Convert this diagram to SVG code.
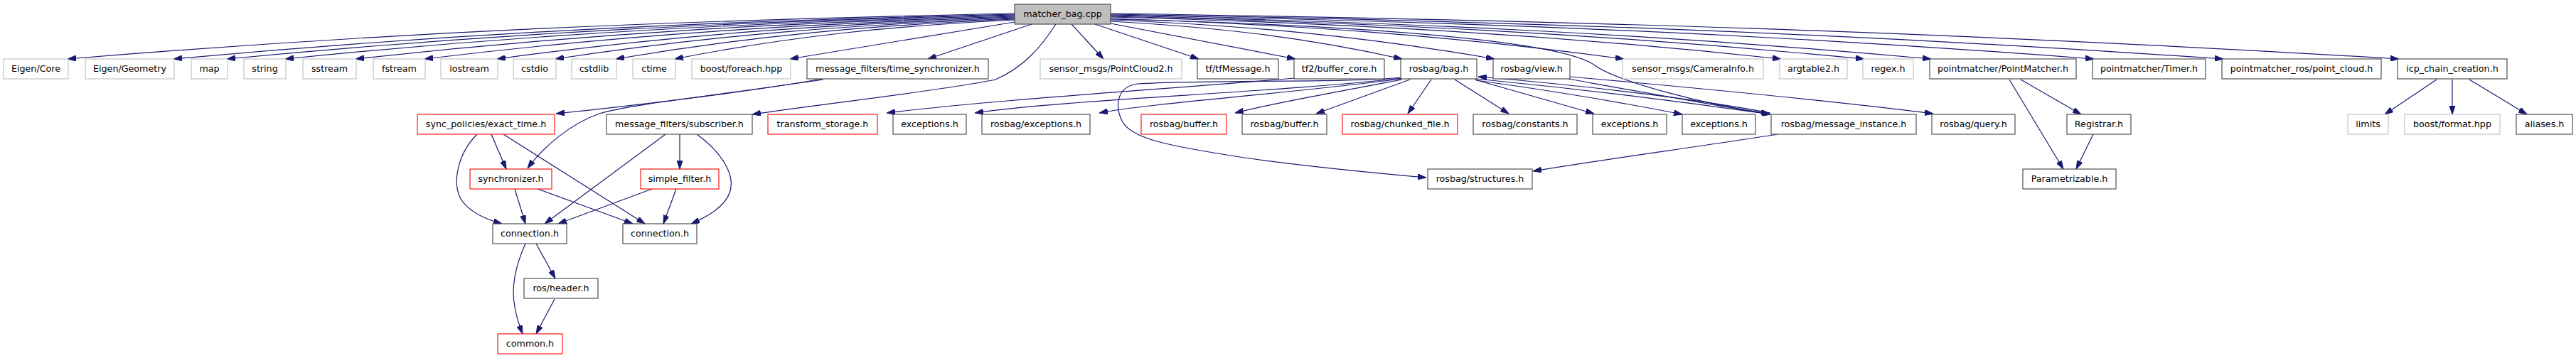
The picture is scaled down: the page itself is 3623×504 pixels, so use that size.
<svg xmlns="http://www.w3.org/2000/svg" width="3623" height="504" viewBox="0 0 3623 504">
<defs>
<marker id="a" markerWidth="12" markerHeight="8" refX="12" refY="4" orient="auto" markerUnits="userSpaceOnUse"><path d="M0,0 L12,4 L0,8 z" fill="#191970" stroke="#191970" stroke-width="1"/></marker>
</defs>
<style>
rect{fill:#fff;stroke:#404040;stroke-width:1.1}
.g rect{stroke:#bfbfbf}
.r rect{stroke:#ff0000}
.top rect{fill:#bfbfbf}
text{font-family:"DejaVu Sans",sans-serif;font-size:12.7px;text-anchor:middle;fill:#000}
#edges path{fill:none;stroke:#191970;stroke-width:1.2;marker-end:url(#a)}
</style>
<rect x="0" y="0" width="3623" height="504" style="fill:#fff;stroke:none"/>
<g id="edges">
<path d="M1427,19 C961,28.6 561,44.6 95,83"/>
<path d="M1427,20 C1013,29.5 658,45.2 244,83"/>
<path d="M1427,21 C1039,30.3 707,45.8 319,83"/>
<path d="M1427,22 C1068,31.2 760,46.4 401,83"/>
<path d="M1427,23 C1103,32 824,47 500,83"/>
<path d="M1427,24 C1137,32.9 888,47.6 597,83"/>
<path d="M1427,25 C1172,33.7 954,48.2 699,83"/>
<path d="M1427,26 C1201,34.6 1007,48.8 781,83"/>
<path d="M1427,27 C1231,35.4 1062,49.4 866,83"/>
<path d="M1427,28 C1260,36.3 1116,50 949,83"/>
<path d="M1427,31 L1111,83"/>
<path d="M1451,34 L1305,83"/>
<path d="M1507,34 L1552,83"/>
<path d="M1540,34 L1686,83"/>
<path d="M1562,33 L1822,83"/>
<path d="M1562,30 C1705,38 1828,51 1972,83"/>
<path d="M1562,28 C1751,36 1913,50 2102,83"/>
<path d="M1562,26 C1815,34.6 2031,48.8 2284,83"/>
<path d="M1562,24 C1892,32.9 2175,47.6 2505,83"/>
<path d="M1562,23 C1933,32 2251,47 2622,83"/>
<path d="M1562,22 C1966,31.2 2312,46.4 2716,83"/>
<path d="M1562,21 C2046,30.3 2461,45.8 2945,83"/>
<path d="M1562,20 C2110,29.5 2579,45.2 3127,83"/>
<path d="M1562,19 C2196,28.6 2740,44.6 3374,83"/>
<path d="M1562,27 C1950,36 2200,60 2243,92 C2275,115 2400,148 2489,160"/>
<path d="M1485,34 C1465,65 1440,95 1400,112 C1330,127 1150,147 1058,161"/>
<path d="M1156,111 C1050,130 880,150 782,160"/>
<path d="M1158,112 C1000,135 880,148 843,160 C805,173 765,205 742,237"/>
<path d="M1821,110 C1650,125 1400,140 1247,159"/>
<path d="M1971,110 C1800,130 1500,140 1371,159"/>
<path d="M1971,111 C1800,133 1620,145 1546,159"/>
<path d="M1972,112 C1850,135 1780,148 1737,159"/>
<path d="M1983,112 L1851,160"/>
<path d="M2013,112 L1980,160"/>
<path d="M2046,112 L2122,160"/>
<path d="M2074,112 L2242,160"/>
<path d="M2076,113 C2200,130 2300,148 2366,161"/>
<path d="M2077,111 C2250,128 2400,148 2490,161"/>
<path d="M2490,159 C2400,142 2250,122 2079,108"/>
<path d="M1970,109 C1900,117 1700,112 1600,118 C1570,122 1568,150 1578,170 C1590,195 1640,205 1750,222 C1850,236 1950,245 2006,250"/>
<path d="M2206,111 C2300,128 2420,150 2490,161"/>
<path d="M2208,108 C2400,125 2600,145 2719,160"/>
<path d="M2500,189 C2400,205 2250,225 2156,241"/>
<path d="M691,189 L712,238"/>
<path d="M671,189 C645,215 635,255 648,280 C660,300 688,310 706,315"/>
<path d="M708,189 L907,315"/>
<path d="M724,266 L739,315"/>
<path d="M756,266 L890,315"/>
<path d="M936,189 L766,315"/>
<path d="M956,189 L956,238"/>
<path d="M980,189 C1012,212 1036,245 1026,272 C1018,292 995,305 972,315"/>
<path d="M917,266 L785,315"/>
<path d="M951,266 L933,315"/>
<path d="M754,343 L781,392"/>
<path d="M739,343 C726,372 718,402 724,432 C727,450 731,460 735,470"/>
<path d="M780,421 L754,470"/>
<path d="M2842,112 L2927,161"/>
<path d="M2826,112 L2902,238"/>
<path d="M2944,189 L2920,238"/>
<path d="M3427,112 L3354,161"/>
<path d="M3449,112 L3449,161"/>
<path d="M3473,112 L3554,161"/>
</g>
<g id="n_matcher" class="top"><rect x="1427" y="6" width="135" height="28"/><text x="1494.5" y="24">matcher_bag.cpp</text></g>
<g id="n_eigen_core" class="g"><rect x="5" y="83" width="91" height="28"/><text x="50.5" y="101">Eigen/Core</text></g>
<g id="n_eigen_geometry" class="g"><rect x="120" y="83" width="125" height="28"/><text x="182.5" y="101">Eigen/Geometry</text></g>
<g id="n_map" class="g"><rect x="269" y="83" width="51" height="28"/><text x="294.5" y="101">map</text></g>
<g id="n_string" class="g"><rect x="343" y="83" width="59" height="28"/><text x="372.5" y="101">string</text></g>
<g id="n_sstream" class="g"><rect x="426" y="83" width="75" height="28"/><text x="463.5" y="101">sstream</text></g>
<g id="n_fstream" class="g"><rect x="525" y="83" width="73" height="28"/><text x="561.5" y="101">fstream</text></g>
<g id="n_iostream" class="g"><rect x="620" y="83" width="80" height="28"/><text x="660" y="101">iostream</text></g>
<g id="n_cstdio" class="g"><rect x="722" y="83" width="60" height="28"/><text x="752" y="101">cstdio</text></g>
<g id="n_cstdlib" class="g"><rect x="804" y="83" width="63" height="28"/><text x="835.5" y="101">cstdlib</text></g>
<g id="n_ctime" class="g"><rect x="890" y="83" width="60" height="28"/><text x="920" y="101">ctime</text></g>
<g id="n_foreach" class="g"><rect x="973" y="83" width="139" height="28"/><text x="1042.5" y="101">boost/foreach.hpp</text></g>
<g id="n_time_sync"><rect x="1135" y="83" width="255" height="28"/><text x="1262.5" y="101">message_filters/time_synchronizer.h</text></g>
<g id="n_pointcloud2" class="g"><rect x="1463" y="83" width="199" height="28"/><text x="1562.5" y="101">sensor_msgs/PointCloud2.h</text></g>
<g id="n_tfmessage"><rect x="1684" y="83" width="114" height="28"/><text x="1741" y="101">tf/tfMessage.h</text></g>
<g id="n_buffer_core"><rect x="1820" y="83" width="127" height="28"/><text x="1883.5" y="101">tf2/buffer_core.h</text></g>
<g id="n_bag"><rect x="1970" y="83" width="107" height="28"/><text x="2023.5" y="101">rosbag/bag.h</text></g>
<g id="n_view"><rect x="2100" y="83" width="108" height="28"/><text x="2154" y="101">rosbag/view.h</text></g>
<g id="n_camerainfo" class="g"><rect x="2282" y="83" width="198" height="28"/><text x="2381" y="101">sensor_msgs/CameraInfo.h</text></g>
<g id="n_argtable2" class="g"><rect x="2503" y="83" width="95" height="28"/><text x="2550.5" y="101">argtable2.h</text></g>
<g id="n_regex" class="g"><rect x="2620" y="83" width="71" height="28"/><text x="2655.5" y="101">regex.h</text></g>
<g id="n_pointmatcher"><rect x="2714" y="83" width="206" height="28"/><text x="2817" y="101">pointmatcher/PointMatcher.h</text></g>
<g id="n_timer"><rect x="2943" y="83" width="159" height="28"/><text x="3022.5" y="101">pointmatcher/Timer.h</text></g>
<g id="n_point_cloud"><rect x="3125" y="83" width="224" height="28"/><text x="3237" y="101">pointmatcher_ros/point_cloud.h</text></g>
<g id="n_icp"><rect x="3372" y="83" width="154" height="28"/><text x="3449" y="101">icp_chain_creation.h</text></g>
<g id="n_exact_time" class="r"><rect x="587" y="161" width="193" height="28"/><text x="683.5" y="179">sync_policies/exact_time.h</text></g>
<g id="n_subscriber"><rect x="853" y="161" width="205" height="28"/><text x="955.5" y="179">message_filters/subscriber.h</text></g>
<g id="n_transform_storage" class="r"><rect x="1080" y="161" width="154" height="28"/><text x="1157" y="179">transform_storage.h</text></g>
<g id="n_exceptions1"><rect x="1256" y="161" width="103" height="28"/><text x="1307.5" y="179">exceptions.h</text></g>
<g id="n_rosbag_exceptions"><rect x="1381" y="161" width="152" height="28"/><text x="1457" y="179">rosbag/exceptions.h</text></g>
<g id="n_buffer_red" class="r"><rect x="1605" y="161" width="120" height="28"/><text x="1665" y="179">rosbag/buffer.h</text></g>
<g id="n_buffer"><rect x="1747" y="161" width="119" height="28"/><text x="1806.5" y="179">rosbag/buffer.h</text></g>
<g id="n_chunked" class="r"><rect x="1888" y="161" width="162" height="28"/><text x="1969" y="179">rosbag/chunked_file.h</text></g>
<g id="n_constants"><rect x="2072" y="161" width="146" height="28"/><text x="2145" y="179">rosbag/constants.h</text></g>
<g id="n_exceptions2"><rect x="2240" y="161" width="104" height="28"/><text x="2292" y="179">exceptions.h</text></g>
<g id="n_exceptions3"><rect x="2366" y="161" width="103" height="28"/><text x="2417.5" y="179">exceptions.h</text></g>
<g id="n_message_instance"><rect x="2491" y="161" width="204" height="28"/><text x="2593" y="179">rosbag/message_instance.h</text></g>
<g id="n_query"><rect x="2717" y="161" width="117" height="28"/><text x="2775.5" y="179">rosbag/query.h</text></g>
<g id="n_registrar"><rect x="2907" y="161" width="90" height="28"/><text x="2952" y="179">Registrar.h</text></g>
<g id="n_limits" class="g"><rect x="3302" y="161" width="57" height="28"/><text x="3330.5" y="179">limits</text></g>
<g id="n_format" class="g"><rect x="3382" y="161" width="134" height="28"/><text x="3449" y="179">boost/format.hpp</text></g>
<g id="n_aliases"><rect x="3539" y="161" width="79" height="28"/><text x="3578.5" y="179">aliases.h</text></g>
<g id="n_synchronizer" class="r"><rect x="661" y="238" width="115" height="28"/><text x="718.5" y="256">synchronizer.h</text></g>
<g id="n_simple_filter" class="r"><rect x="901" y="238" width="110" height="28"/><text x="956" y="256">simple_filter.h</text></g>
<g id="n_structures"><rect x="2008" y="238" width="147" height="28"/><text x="2081.5" y="256">rosbag/structures.h</text></g>
<g id="n_parametrizable"><rect x="2845" y="238" width="131" height="28"/><text x="2910.5" y="256">Parametrizable.h</text></g>
<g id="n_connection_a"><rect x="693" y="315" width="104" height="28"/><text x="745" y="333">connection.h</text></g>
<g id="n_connection_b"><rect x="876" y="315" width="104" height="28"/><text x="928" y="333">connection.h</text></g>
<g id="n_header"><rect x="737" y="392" width="104" height="28"/><text x="789" y="410">ros/header.h</text></g>
<g id="n_common" class="r"><rect x="700" y="470" width="91" height="28"/><text x="745.5" y="488">common.h</text></g>
</svg>
